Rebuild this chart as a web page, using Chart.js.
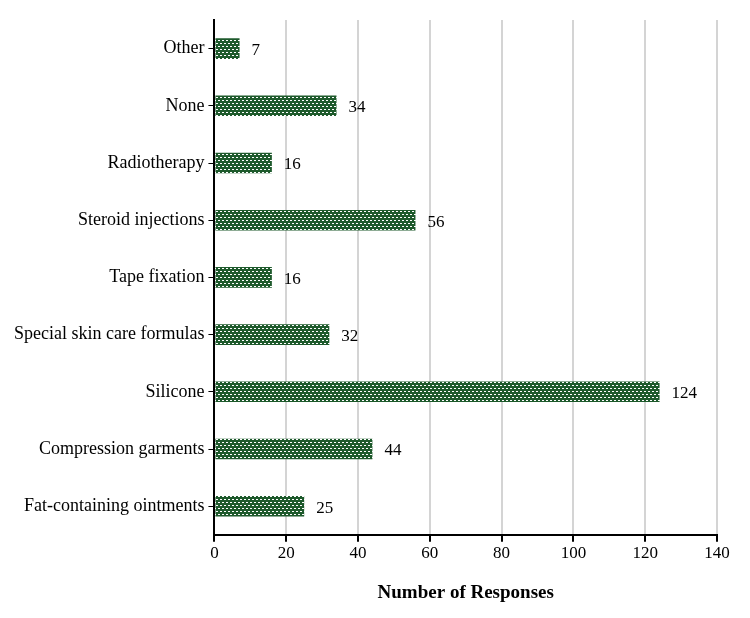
<!DOCTYPE html>
<html>
<head>
<meta charset="utf-8">
<script src="https://cdn.jsdelivr.net/npm/chart.js@4"></script>
<style>
  html, body { margin: 0; padding: 0; background: #fff; }
  #wrap { width: 750px; height: 618px; }
</style>
</head>
<body>
<div id="wrap"><canvas id="chart" width="750" height="618"></canvas></div>
<script>
var categories = ['Other', 'None', 'Radiotherapy', 'Steroid injections', 'Tape fixation',
  'Special skin care formulas', 'Silicone', 'Compression garments', 'Fat-containing ointments'];
var responses = [7, 34, 16, 56, 16, 32, 124, 44, 25];
var xTicks = [0, 20, 40, 60, 80, 100, 120, 140];

// dotted green fill like the original
function makePattern() {
    var c = document.createElement('canvas');
    c.width = 4; c.height = 6;
    var g = c.getContext('2d');
    g.fillStyle = '#1e5a2c';
    g.fillRect(0, 0, 4, 6);
    g.fillStyle = '#ffffff';
    g.fillRect(0, 1, 2, 1);
    g.fillRect(2, 4, 2, 1);
    return g.createPattern(c, 'repeat');
}

var valueLabels = {
    id: 'valueLabels',
    afterDatasetsDraw: function(chart) {
        var ctx = chart.ctx;
        var meta = chart.getDatasetMeta(0);
        ctx.save();
        ctx.font = '17px "Liberation Serif"';
        ctx.fillStyle = '#000';
        ctx.textBaseline = 'middle';
        ctx.textAlign = 'left';
        meta.data.forEach(function(bar, i) {
            ctx.fillText(responses[i], bar.x + 12, bar.y + 2);
        });
        ctx.restore();
    }
};

Chart.defaults.font.family = '"Liberation Serif", "Times New Roman", serif';
Chart.defaults.color = '#000';

new Chart(document.getElementById('chart'), {
    type: 'bar',
    data: {
        labels: categories,
        datasets: [{
            data: responses,
            backgroundColor: makePattern(),
            borderWidth: 0,
            barPercentage: 0.36,
            categoryPercentage: 1
        }]
    },
    options: {
        indexAxis: 'y',
        responsive: false,
        animation: false,
        layout: { padding: { top: 20, right: 33, left: 10, bottom: 10 } },
        plugins: { legend: { display: false }, tooltip: { enabled: false } },
        scales: {
            x: {
                min: 0,
                max: 140,
                afterBuildTicks: function(axis) {
                    axis.ticks = xTicks.map(function(v) { return { value: v }; });
                },
                grid: { color: '#d4d4d4', lineWidth: 2, tickColor: '#000', tickLength: 7 },
                border: { color: '#000', width: 2 },
                ticks: { padding: 2, font: { size: 17 } },
                title: {
                    display: true,
                    text: 'Number of Responses',
                    font: { size: 19, weight: 'bold' },
                    padding: { top: 15 }
                }
            },
            y: {
                grid: { drawOnChartArea: false, offset: false, color: '#000', tickLength: 6 },
                border: { color: '#000', width: 2 },
                ticks: { padding: 4, font: { size: 18 } }
            }
        }
    },
    plugins: [valueLabels]
});
</script>
</body>
</html>
